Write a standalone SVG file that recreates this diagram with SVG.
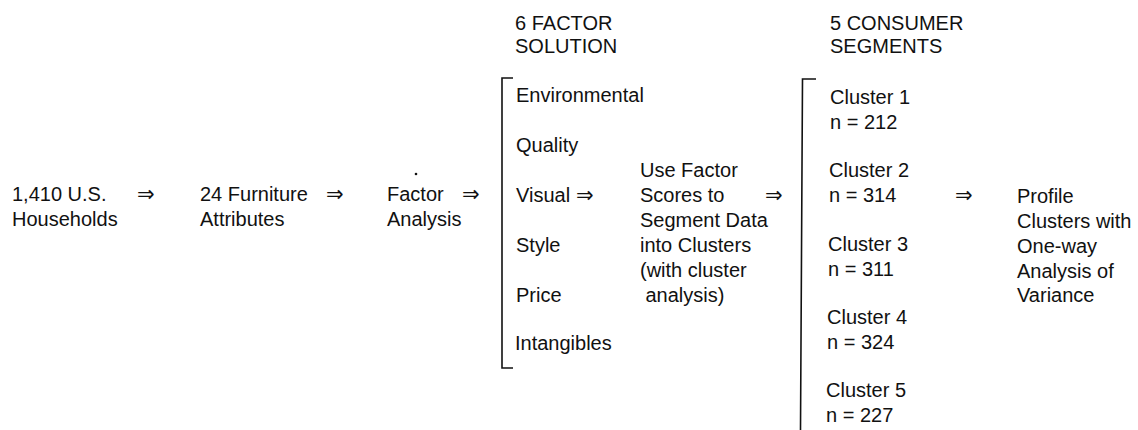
<svg xmlns="http://www.w3.org/2000/svg" width="1138" height="430" viewBox="0 0 1138 430">
<style>
text{font-family:"Liberation Sans","Arial","DejaVu Sans",sans-serif;font-size:20px;fill:#111}
.arr{font-family:"DejaVu Sans",sans-serif;font-size:21px}
.br{fill:none;stroke:#111;stroke-width:1.6}
</style>
<rect width="1138" height="430" fill="#fff"/>
<g id="households"><text x="12" y="201">1,410 U.S.</text><text x="12" y="226">Households</text></g>
<g id="attributes"><text x="200" y="201">24 Furniture</text><text x="200" y="226">Attributes</text></g>
<g id="factor-analysis"><circle cx="416" cy="174" r="1.3" fill="#111"/><text x="387" y="201">Factor</text><text x="387" y="226">Analysis</text></g>
<g id="factor-solution">
<text x="515" y="30">6 FACTOR</text><text x="515" y="53">SOLUTION</text>
<path class="br" d="M513,78 H502 V368 H513"/>
<text x="516" y="102">Environmental</text>
<text x="516" y="152">Quality</text>
<text x="516" y="202">Visual</text>
<text x="516" y="252">Style</text>
<text x="516" y="302">Price</text>
<text x="515" y="350">Intangibles</text>
</g>
<g id="cluster-step">
<text x="640" y="177">Use Factor</text>
<text x="640" y="202">Scores to</text>
<text x="640" y="227">Segment Data</text>
<text x="640" y="252">into Clusters</text>
<text x="640" y="277">(with cluster</text>
<text x="645.5" y="302">analysis)</text>
</g>
<g id="consumer-segments">
<text x="830" y="30">5 CONSUMER</text><text x="830" y="53">SEGMENTS</text>
<path class="br" d="M816,79 H802.5 L800.5,430"/>
<text x="830" y="104">Cluster 1</text><text x="830" y="129">n = 212</text>
<text x="829" y="177">Cluster 2</text><text x="829" y="202">n = 314</text>
<text x="828" y="251">Cluster 3</text><text x="828" y="276">n = 311</text>
<text x="827" y="324">Cluster 4</text><text x="827" y="349">n = 324</text>
<text x="826" y="397">Cluster 5</text><text x="826" y="422">n = 227</text>
</g>
<g id="profile">
<text x="1017" y="203">Profile</text>
<text x="1017" y="228">Clusters with</text>
<text x="1017" y="253">One-way</text>
<text x="1017" y="278">Analysis of</text>
<text x="1017" y="302">Variance</text>
</g>
<g id="connectors">
<text class="arr" x="137" y="201">⇒</text>
<text class="arr" x="326" y="201">⇒</text>
<text class="arr" x="462" y="201">⇒</text>
<text class="arr" x="576" y="202">⇒</text>
<text class="arr" x="765" y="202">⇒</text>
<text class="arr" x="955" y="202">⇒</text>
</g>
</svg>
